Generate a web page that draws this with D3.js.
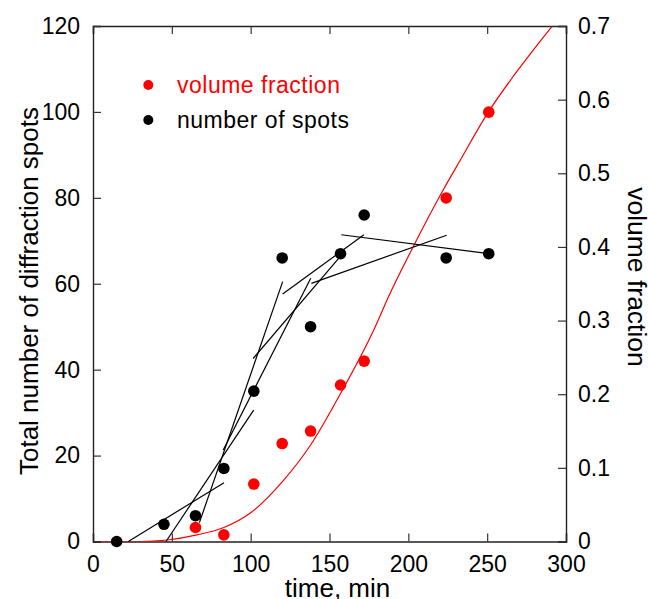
<!DOCTYPE html>
<html>
<head>
<meta charset="utf-8">
<script src="https://cdn.jsdelivr.net/npm/d3@7.9.0/dist/d3.min.js"></script>
<style>
  body { margin: 0; background: #fff; }
  svg { display: block; font-family: 'Liberation Sans', Arial, Helvetica, sans-serif; }
</style>
</head>
<body>
<svg id="chart" width="648" height="599"></svg>
<script>
// --- data ---
const spotTime  = [15, 45, 65, 83, 102, 120, 138, 157, 172, 224, 251];
const spotCount = [0, 4, 6, 17, 35, 66, 50, 67, 76, 66, 67];

const fracTime  = [65, 83, 102, 120, 138, 157, 172, 224, 251];
const fracValue = [0.019, 0.009, 0.078, 0.133, 0.150, 0.2125, 0.245, 0.4665, 0.583];

// fitted volume fraction curve
const curveTime  = [5, 30, 47, 66, 83, 100, 120, 138, 157, 178, 188, 203, 222, 233, 251, 265, 277, 291];
const curveValue = [0, 0, 0.002, 0.009, 0.019, 0.039, 0.081, 0.131, 0.201, 0.287, 0.335, 0.400, 0.477, 0.518, 0.584, 0.627, 0.661, 0.699];

// straight fit segments through the spot counts: [t1, n1, t2, n2]
const fitSegments = [
  [22.4, 0, 83.1, 13.7],
  [46.3, 0, 101.9, 30.6],
  [67.5, 4.4, 120.3, 60.5],
  [82.6, 21.3, 138.1, 61.3],
  [101.6, 42.6, 157.7, 66.7],
  [120.3, 57.6, 171.8, 71.4],
  [138.5, 60.1, 224.3, 71.3],
  [157.5, 71.4, 251, 67]
];

const xTicks = [0, 50, 100, 150, 200, 250, 300];
const yTicks = [0, 20, 40, 60, 80, 100, 120];
const y2Ticks = [0, 0.1, 0.2, 0.3, 0.4, 0.5, 0.6, 0.7];

// --- layout ---
const plotLeft = 93, plotRight = 566, plotTop = 26, plotBottom = 541.5;
const tickLen = 8;

const svg = d3.select('#chart');

const x  = d3.scaleLinear().domain([0, 300]).range([plotLeft, plotRight]);
const y  = d3.scaleLinear().domain([0, 120]).range([plotBottom, plotTop]);
const y2 = d3.scaleLinear().domain([0, 0.7]).range([plotBottom, plotTop]);

// clip so the red curve stops at the frame
svg.append('clipPath').attr('id', 'plot-clip')
  .append('rect')
  .attr('x', plotLeft).attr('y', plotTop)
  .attr('width', plotRight - plotLeft).attr('height', plotBottom - plotTop);

// --- axes (ticks point inward) ---
const tickFont = '23px';

svg.append('g')
  .attr('transform', `translate(0,${plotBottom})`)
  .call(d3.axisBottom(x).tickValues(xTicks).tickSize(-tickLen).tickPadding(14).tickFormat(d3.format('d')))
  .call(g => g.selectAll('text').attr('font-size', tickFont).attr('fill', '#000'));

svg.append('g')
  .attr('transform', `translate(0,${plotTop})`)
  .call(d3.axisTop(x).tickValues(xTicks).tickSize(-tickLen).tickFormat(''));

svg.append('g')
  .attr('transform', `translate(${plotLeft},0)`)
  .call(d3.axisLeft(y).tickValues(yTicks).tickSize(-tickLen).tickPadding(13).tickFormat(d3.format('d')))
  .call(g => g.selectAll('text').attr('font-size', tickFont).attr('fill', '#000'));

svg.append('g')
  .attr('transform', `translate(${plotRight},0)`)
  .call(d3.axisRight(y2).tickValues(y2Ticks).tickSize(-tickLen).tickPadding(12).tickFormat(d => d === 0 ? '0' : d3.format('.1f')(d)))
  .call(g => g.selectAll('text').attr('font-size', tickFont).attr('fill', '#000'));

svg.selectAll('.domain').attr('stroke', '#222').attr('stroke-width', 1.4);
svg.selectAll('.tick line').attr('stroke', '#333').attr('stroke-width', 1.2);
svg.selectAll('g').attr('font-family', null);

// --- axis titles ---
svg.append('text')
  .attr('x', (plotLeft + plotRight) / 2 + 8)
  .attr('y', 597)
  .attr('text-anchor', 'middle')
  .attr('font-size', '26px')
  .text('time, min');

svg.append('text')
  .attr('transform', `translate(38,291) rotate(-90)`)
  .attr('text-anchor', 'middle')
  .attr('font-size', '26px')
  .text('Total number of diffraction spots');

svg.append('text')
  .attr('transform', `translate(628,277) rotate(90)`)
  .attr('text-anchor', 'middle')
  .attr('font-size', '26.5px')
  .text('volume fraction');

// --- fitted red curve ---
const curvePts = curveTime.map((t, i) => [t, curveValue[i]]);
svg.append('path')
  .datum(curvePts)
  .attr('clip-path', 'url(#plot-clip)')
  .attr('fill', 'none')
  .attr('stroke', '#ff0000')
  .attr('stroke-width', 1.2)
  .attr('d', d3.line().x(d => x(d[0])).y(d => y2(d[1])).curve(d3.curveMonotoneX));

// --- black fit segments ---
svg.append('g')
  .selectAll('line')
  .data(fitSegments)
  .enter()
  .append('line')
  .attr('x1', d => x(d[0])).attr('y1', d => y(d[1]))
  .attr('x2', d => x(d[2])).attr('y2', d => y(d[3]))
  .attr('stroke', '#000')
  .attr('stroke-width', 1.2);

// --- points ---
svg.append('g')
  .selectAll('circle')
  .data(fracTime.map((t, i) => [t, fracValue[i]]))
  .enter()
  .append('circle')
  .attr('cx', d => x(d[0]))
  .attr('cy', d => y2(d[1]))
  .attr('r', 5.8)
  .attr('fill', '#ff0000');

svg.append('g')
  .selectAll('circle')
  .data(spotTime.map((t, i) => [t, spotCount[i]]))
  .enter()
  .append('circle')
  .attr('cx', d => x(d[0]))
  .attr('cy', d => y(d[1]))
  .attr('r', 5.8)
  .attr('fill', '#000');

// --- legend ---
const legendItems = [
  { label: 'volume fraction', color: '#ff0000', cy: 85 },
  { label: 'number of spots', color: '#000', cy: 120 }
];

const legend = svg.append('g');
legend.selectAll('circle')
  .data(legendItems)
  .enter()
  .append('circle')
  .attr('cx', 148.3)
  .attr('cy', d => d.cy)
  .attr('r', 5)
  .attr('fill', d => d.color);

legend.selectAll('text')
  .data(legendItems)
  .enter()
  .append('text')
  .attr('x', 177)
  .attr('y', d => d.cy + 7.5)
  .attr('font-size', '23px')
  .attr('letter-spacing', '0.5px')
  .attr('fill', d => d.color)
  .text(d => d.label);
</script>
</body>
</html>
